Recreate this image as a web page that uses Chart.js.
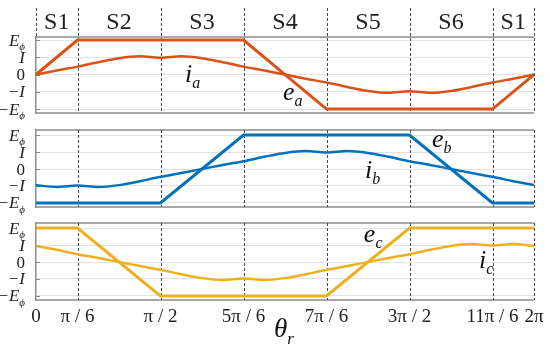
<!DOCTYPE html>
<html>
<head>
<meta charset="utf-8">
<script src="https://cdn.jsdelivr.net/npm/chart.js@4.4.0/dist/chart.umd.min.js"></script>
<style>
    body { margin: 0; background: #fff; }
    #wrap { position: relative; width: 550px; height: 347px; overflow: hidden; }
    canvas { position: absolute; left: 0; }
</style>
</head>
<body>
<div id="wrap">
    <canvas id="pa" width="550" height="120" style="top:0"></canvas>
    <canvas id="pb" width="550" height="95" style="top:120px"></canvas>
    <canvas id="pc" width="550" height="132" style="top:215px"></canvas>
</div>
<script>
// rotor angle in steps of pi/12
const theta = [0, 1, 2, 3, 4, 5, 6, 7, 8, 9, 10, 11, 12, 13, 14, 15, 16, 17, 18, 19, 20, 21, 22, 23, 24];
const thetaTicks = [0, 2, 6, 10, 14, 18, 22, 24];
const thetaLabels = ['0', 'π / 6', 'π / 2', '5π / 6', '7π / 6', '3π / 2', '11π / 6', '2π'];

// sectors between the dashed lines
const sectorEdges = [0, 2, 6, 10, 14, 18, 22, 24];
const sectorNames = ['S1', 'S2', 'S3', 'S4', 'S5', 'S6', 'S1'];

// y levels (E = 2, I = 1)
const levelTicks = [-2, -1, 0, 1, 2];
const levelMain = ['−E', '−I', '0', 'I', 'E'];
const levelSub = ['ϕ', '', '', '', 'ϕ'];

// phase currents
const iA = [0, 0.24, 0.46, 0.72, 0.95, 1.06, 0.97, 1.06, 0.95, 0.72, 0.46, 0.24, 0,
            -0.24, -0.46, -0.72, -0.95, -1.06, -0.97, -1.06, -0.95, -0.72, -0.46, -0.24, 0];
const iB = [-0.95, -1.06, -0.97, -1.06, -0.95, -0.72, -0.46, -0.24, 0, 0.24, 0.46, 0.72, 0.95,
            1.06, 0.97, 1.06, 0.95, 0.72, 0.46, 0.24, 0, -0.24, -0.46, -0.72, -0.95];
const iC = [0.95, 0.72, 0.46, 0.24, 0, -0.24, -0.46, -0.72, -0.95, -1.06, -0.97, -1.06, -0.95,
            -0.72, -0.46, -0.24, 0, 0.24, 0.46, 0.72, 0.95, 1.06, 0.97, 1.06, 0.95];

// trapezoidal back-EMF corners
const eAx = [0, 2, 10, 14, 22, 24];
const eAy = [0, 2, 2, -2, -2, 0];
const eBx = [0, 6, 10, 18, 22, 24];
const eBy = [-2, -2, 2, 2, -2, -2];
const eCx = [0, 2, 6, 14, 18, 24];
const eCy = [2, 2, -2, -2, 2, 2];

const colA = '#D95319';
const colB = '#0072BD';
const colC = '#EDB120';
const serif = "'Liberation Serif', 'Times New Roman', serif";

function pts(xs, ys) {
    return xs.map((x, i) => ({ x: x, y: ys[i] }));
}

// draws text with a subscript, left edge at x
function subText(ctx, main, sub, x, y, size, subSize, italic) {
    ctx.font = (italic ? 'italic ' : '') + size + 'px ' + serif;
    ctx.fillText(main, x, y);
    const w = ctx.measureText(main).width;
    if (sub) {
        ctx.font = 'italic ' + subSize + 'px ' + serif;
        ctx.fillText(sub, x + w, y + subSize * 0.4);
    }
}

const decor = {
    id: 'decor',
    beforeDatasetsDraw(chart, args, opts) {
        const ctx = chart.ctx;
        const a = chart.chartArea;
        const xs = chart.scales.x;
        const ys = chart.scales.y;
        ctx.save();

        // frame top and bottom
        ctx.strokeStyle = '#8c8c8c';
        ctx.lineWidth = 1.5;
        ctx.beginPath();
        ctx.moveTo(a.left, a.top); ctx.lineTo(a.right, a.top);
        ctx.moveTo(a.left, a.bottom); ctx.lineTo(a.right, a.bottom);
        ctx.stroke();

        // small inner tick marks
        ctx.lineWidth = 1;
        levelTicks.forEach(v => {
            const y = Math.round(ys.getPixelForValue(v)) + 0.5;
            ctx.beginPath();
            ctx.moveTo(a.left, y);
            ctx.lineTo(a.left + 4, y);
            ctx.stroke();
        });

        // dashed sector lines
        ctx.strokeStyle = '#4a4a4a';
        ctx.setLineDash([3, 2]);
        sectorEdges.forEach((v, i) => {
            const x = Math.round(xs.getPixelForValue(v)) + 0.5;
            const top = opts.sectors ? 8 : a.top;
            const bottom = i === 0 ? a.top : a.bottom;
            if (i === 0 && !opts.sectors) return;
            ctx.beginPath();
            ctx.moveTo(x, top);
            ctx.lineTo(x, bottom);
            ctx.stroke();
        });
        ctx.setLineDash([]);

        // y labels
        ctx.fillStyle = '#222';
        ctx.textBaseline = 'alphabetic';
        levelTicks.forEach((v, i) => {
            const y = ys.getPixelForValue(v) + 5.5;
            const italic = levelMain[i] !== '0';
            ctx.font = (italic ? 'italic ' : '') + '17px ' + serif;
            const w1 = ctx.measureText(levelMain[i]).width;
            ctx.font = 'italic 11px ' + serif;
            const w2 = levelSub[i] ? ctx.measureText(levelSub[i]).width : 0;
            subText(ctx, levelMain[i], levelSub[i], 25 - w1 - w2, y, 17, 11, italic);
        });

        // sector names
        if (opts.sectors) {
            ctx.font = '24px ' + serif;
            ctx.textAlign = 'center';
            ctx.textBaseline = 'middle';
            sectorNames.forEach((s, i) => {
                const x = xs.getPixelForValue((sectorEdges[i] + sectorEdges[i + 1]) / 2);
                ctx.fillText(s, x, 23);
            });
            ctx.textAlign = 'left';
        }
        ctx.restore();
    },
    afterDatasetsDraw(chart, args, opts) {
        const ctx = chart.ctx;
        const xs = chart.scales.x;
        const ys = chart.scales.y;
        ctx.save();
        ctx.fillStyle = '#111';
        ctx.textBaseline = 'alphabetic';
        (opts.labels || []).forEach(l => {
            subText(ctx, l.main, l.sub, xs.getPixelForValue(l.x), ys.getPixelForValue(l.y), 26, 16, true);
        });
        if (opts.title) {
            // axis title sits below the tick labels
            subText(ctx, 'θ', 'r', 274, chart.chartArea.bottom + 37, 27, 17, true);
        }
        ctx.restore();
    }
};

function makePanel(id, eData, iData, color, yMin, yMax, pad, labels, first, last) {
    return new Chart(document.getElementById(id), {
        type: 'line',
        data: {
            datasets: [
                {
                    data: pts(eData[0], eData[1]),
                    borderColor: color,
                    borderWidth: 3,
                    pointRadius: 0,
                    tension: 0
                },
                {
                    data: pts(theta, iData),
                    borderColor: color,
                    borderWidth: 2.5,
                    pointRadius: 0,
                    cubicInterpolationMode: 'monotone'
                }
            ]
        },
        options: {
            responsive: false,
            animation: false,
            layout: { padding: { left: 0, right: 16, top: pad[0], bottom: pad[1] } },
            plugins: {
                legend: { display: false },
                tooltip: { enabled: false },
                decor: { sectors: first, labels: labels, title: last }
            },
            scales: {
                x: {
                    type: 'linear',
                    min: 0,
                    max: 24,
                    display: last,
                    grid: { display: false, drawTicks: false },
                    border: { display: false },
                    afterBuildTicks: s => { s.ticks = thetaTicks.map(v => ({ value: v })); },
                    afterFit: s => { s.height = last ? 47 : 0; },
                    ticks: {
                        autoSkip: false,
                        maxRotation: 0,
                        padding: 6,
                        color: '#222',
                        font: { family: serif, size: 19 },
                        callback: (v) => thetaLabels[thetaTicks.indexOf(v)]
                    }
                },
                y: {
                    min: yMin,
                    max: yMax,
                    afterBuildTicks: s => { s.ticks = levelTicks.map(v => ({ value: v })); },
                    afterFit: s => { s.width = 36; },
                    grid: { color: '#e2e2e2', drawTicks: false },
                    border: { color: '#8c8c8c', width: 1.5 },
                    ticks: { display: false }
                }
            }
        },
        plugins: [decor]
    });
}

makePanel('pa', [eAx, eAy], iA, colA, -2.23, 2.18, [37, 7],
    [{ main: 'i', sub: 'a', x: 7.18, y: -0.43 }, { main: 'e', sub: 'a', x: 11.9, y: -1.47 }], true, false);
makePanel('pb', [eBx, eBy], iB, colB, -2.24, 2.3, [10, 8],
    [{ main: 'i', sub: 'b', x: 15.86, y: -0.53 }, { main: 'e', sub: 'b', x: 19.08, y: 1.3 }], false, false);
makePanel('pc', [eCx, eCy], iC, colC, -2.24, 2.3, [8, 0],
    [{ main: 'e', sub: 'c', x: 15.8, y: 1.18 }, { main: 'i', sub: 'c', x: 21.35, y: -0.35 }], false, true);
</script>
</body>
</html>
